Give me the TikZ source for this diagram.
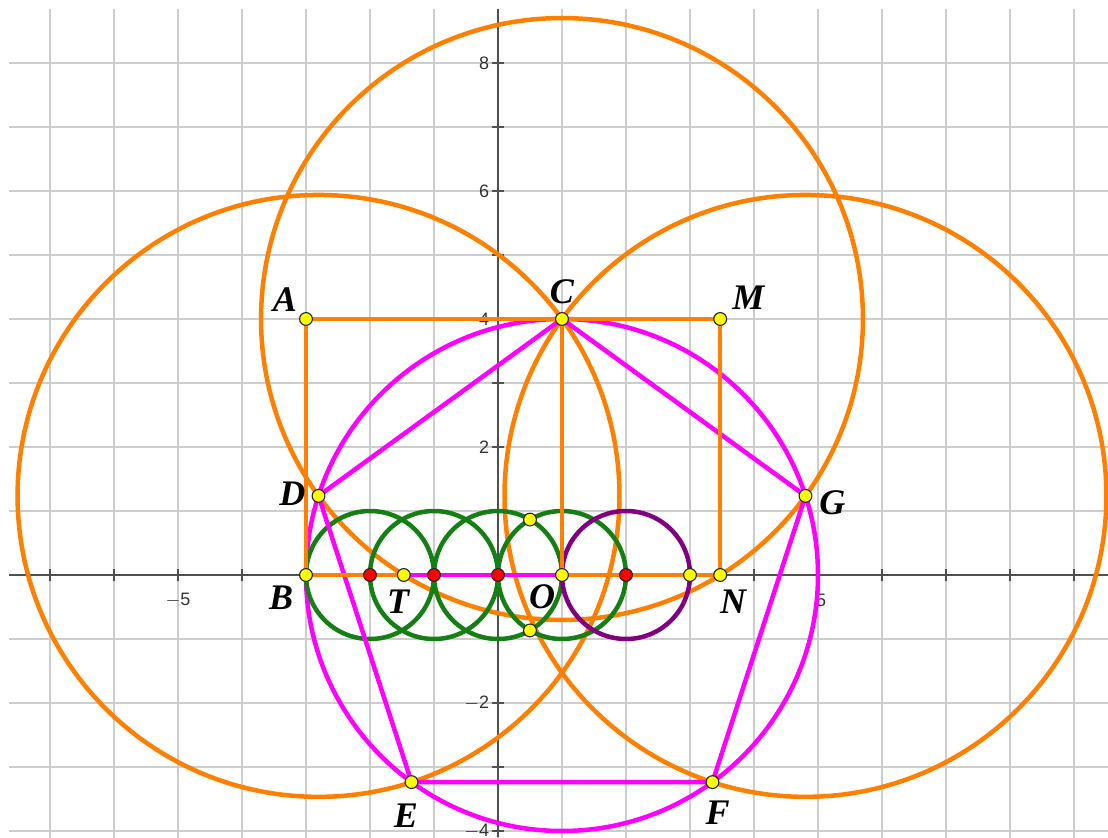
\documentclass[tikz,border=0pt]{standalone}
\usepackage{fontspec}
\setmainfont{Liberation Serif}
\setsansfont{Liberation Sans}
\usetikzlibrary{calc}
\definecolor{geoorange}{RGB}{255,127,0}
\definecolor{geomag}{RGB}{255,0,255}
\definecolor{geogreen}{RGB}{20,128,20}
\definecolor{geopurple}{RGB}{128,0,128}
\definecolor{gridgray}{RGB}{205,205,205}
\definecolor{axisgray}{RGB}{80,80,80}
\definecolor{ptyellow}{RGB}{255,255,0}
\definecolor{ptred}{RGB}{255,0,0}
\tikzset{
  gridline/.style={draw=gridgray, line width=0.45pt},
  axisline/.style={draw=axisgray, line width=0.55pt},
  ticklab/.style={font=\sffamily\fontsize{8}{9}\selectfont, text=black!80, inner sep=0pt},
  oline/.style={draw=geoorange, line width=2pt},
  mline/.style={draw=geomag, line width=2pt},
  gline/.style={draw=geogreen, line width=2pt},
  pline/.style={draw=geopurple, line width=2pt},
  ptY/.style={circle, fill=ptyellow, draw=black!85, line width=0.5pt, inner sep=0pt, minimum size=0.2cm},
  ptR/.style={circle, fill=ptred, draw=black!85, line width=0.5pt, inner sep=0pt, minimum size=0.2cm},
  lab/.style={font=\fontsize{16}{19}\selectfont\bfseries\itshape, inner sep=0pt}
}
\begin{document}
\begin{tikzpicture}
\useasboundingbox (-7.78125,-4.09375) rectangle (9.53125,8.984375);
% grid
\begin{scope}
\clip (-7.64,-4.09375) rectangle (9.53125,8.84);
\draw[gridline] (-8,-5) grid (10,9);
\end{scope}
% axes
\coordinate (xl) at (-7.64,0);
\coordinate (xr) at (9.53125,0);
\coordinate (yb) at (0,-4.09375);
\coordinate (yt) at (0,8.84);
\draw[axisline] (xl) -- (xr);
\draw[axisline] (yb) -- (yt);
\foreach \i in {-7,...,9} \draw[axisline] (\i,-0.1) -- (\i,0.1);
\foreach \j in {-4,...,8} \draw[axisline] (-0.1,\j) -- (0.1,\j);
\node[ticklab, anchor=east] (t8) at (-0.13,8) {8};
\node[ticklab, anchor=east] (t6) at (-0.13,6) {6};
\node[ticklab, anchor=east] (t4) at (-0.13,4) {4};
\node[ticklab, anchor=east] (t2) at (-0.13,2) {2};
\node[ticklab, anchor=east] (tm2) at (-0.13,-2) {$-$2};
\node[ticklab, anchor=east] (tm4) at (-0.13,-4) {$-$4};
\node[ticklab] (tm5) at (-5,-0.39) {$-$5};
\node[ticklab] (t5x) at (5.05,-0.39) {5};
% construction points
\coordinate (O) at (1,0);
\coordinate (B) at (-3,0);
\coordinate (A) at (-3,4);
\coordinate (C) at (1,4);
\coordinate (N) at (3.4721360,0);
\coordinate (M) at (3.4721360,4);
\coordinate (T) at (-1.4721360,0);
\coordinate (D) at (-2.8042260,1.2360680);
\coordinate (G) at (4.8042260,1.2360680);
\coordinate (E) at (-1.3511410,-3.2360680);
\coordinate (F) at (3.3511410,-3.2360680);
\coordinate (R1) at (-2,0);
\coordinate (R2) at (-1,0);
\coordinate (R3) at (0,0);
\coordinate (R4) at (2,0);
\coordinate (P2) at (3,0);
\coordinate (U1) at (0.5,0.8660254);
\coordinate (U2) at (0.5,-0.8660254);
% orange circles
\draw[oline] (D) circle[radius=4.7022820];
\draw[oline] (C) circle[radius=4.7022820];
\draw[oline] (G) circle[radius=4.7022820];
% magenta circle
\draw[mline] (O) circle[radius=4];
% green and purple circles
\draw[gline] (R1) circle[radius=1];
\draw[gline] (R2) circle[radius=1];
\draw[gline] (R3) circle[radius=1];
\draw[gline] (O) circle[radius=1];
\draw[pline] (R4) circle[radius=1];
% pentagon
\draw[mline, line join=round] (C) -- (G) -- (F) -- (E) -- (D) -- cycle;
% orange segments
\draw[oline] (A) -- (M);
\draw[oline] (A) -- (B);
\draw[oline] (M) -- (N);
\draw[oline] (C) -- (O);
\draw[oline] (B) -- (T);
\draw[oline] (O) -- (N);
\draw[mline] (T) -- (O);
% points
\node[ptR] (r1) at (R1) {};
\node[ptR] (r2) at (R2) {};
\node[ptR] (r3) at (R3) {};
\node[ptR] (r4) at (R4) {};
\node[ptY] (pA) at (A) {};
\node[ptY] (pB) at (B) {};
\node[ptY] (pC) at (C) {};
\node[ptY] (pM) at (M) {};
\node[ptY] (pN) at (N) {};
\node[ptY] (pT) at (T) {};
\node[ptY] (pO) at (O) {};
\node[ptY] (pD) at (D) {};
\node[ptY] (pG) at (G) {};
\node[ptY] (pE) at (E) {};
\node[ptY] (pF) at (F) {};
\node[ptY] (pP) at (P2) {};
\node[ptY] (pU1) at (U1) {};
\node[ptY] (pU2) at (U2) {};
% labels
\node[lab] (lA) at ($(A)+(-0.33,0.30)$) {A};
\node[lab] (lC) at ($(C)+(0,0.42)$) {C};
\node[lab] (lM) at ($(M)+(0.44,0.34)$) {M};
\node[lab] (lD) at ($(D)+(-0.41,0.03)$) {D};
\node[lab] (lB) at ($(B)+(-0.39,-0.36)$) {B};
\node[lab] (lT) at ($(T)+(-0.09,-0.42)$) {T};
\node[lab] (lO) at ($(O)+(-0.31,-0.34)$) {O};
\node[lab] (lN) at ($(N)+(0.2,-0.42)$) {N};
\node[lab] (lG) at ($(G)+(0.42,-0.11)$) {G};
\node[lab] (lE) at ($(E)+(-0.09,-0.52)$) {E};
\node[lab] (lF) at ($(F)+(0.08,-0.48)$) {F};
\end{tikzpicture}
\end{document}
